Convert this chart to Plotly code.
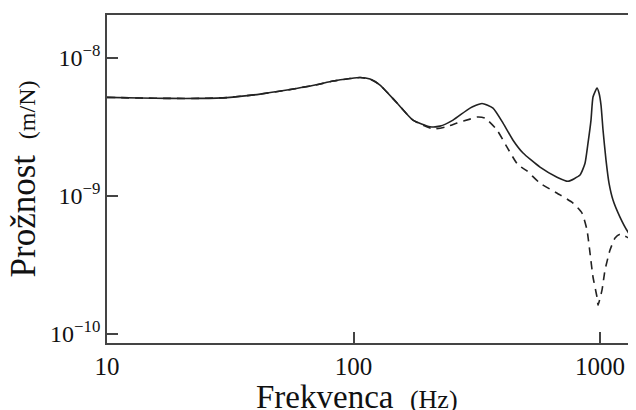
import plotly.graph_objects as go

# Frequency (Hz) and compliance (m/N)
freq_solid = [10.0, 13.6, 18.0, 23.8, 30.7, 41.8, 53.7, 69.8, 82.6, 96.8, 106.3, 116.7,
              128.1, 150.2, 174.3, 204.3, 224.3, 253.3, 296.9, 332.2, 368.1, 404.2,
              443.8, 487.3, 571.0, 669.2, 741.8, 829.7, 869.3, 894.0, 919.3, 936.6,
              972.3, 990.6, 1009.4, 1028.5, 1057.6, 1087.7, 1128.9, 1205.1, 1299.2, 1399.6]
comp_solid = [5.19e-9, 5.13e-9, 5.10e-9, 5.10e-9, 5.17e-9, 5.48e-9, 5.86e-9, 6.37e-9,
              6.81e-9, 7.10e-9, 7.22e-9, 7.04e-9, 6.37e-9, 4.72e-9, 3.55e-9, 3.18e-9,
              3.21e-9, 3.55e-9, 4.34e-9, 4.69e-9, 4.34e-9, 3.38e-9, 2.54e-9, 2.05e-9,
              1.62e-9, 1.37e-9, 1.28e-9, 1.42e-9, 1.73e-9, 2.42e-9, 3.55e-9, 5.22e-9,
              6.06e-9, 5.58e-9, 4.56e-9, 3.01e-9, 1.82e-9, 1.24e-9, 9.35e-10, 7.04e-10,
              5.48e-10, 4.64e-10]

freq_dashed = [10.0, 13.6, 18.0, 23.8, 30.7, 41.8, 53.7, 69.8, 82.6, 96.8, 106.3, 116.7,
               128.1, 150.2, 174.3, 210.1, 235.0, 263.0, 296.9, 316.9, 341.6, 382.1,
               419.5, 464.9, 505.7, 571.0, 688.1, 777.3, 845.3, 885.6, 910.9, 936.6,
               972.3, 981.5, 1018.8, 1047.8, 1098.0, 1150.4, 1205.1, 1287.0, 1399.6]
comp_dashed = [5.19e-9, 5.13e-9, 5.10e-9, 5.10e-9, 5.17e-9, 5.48e-9, 5.86e-9, 6.37e-9,
               6.81e-9, 7.10e-9, 7.22e-9, 7.04e-9, 6.37e-9, 4.72e-9, 3.55e-9, 3.06e-9,
               3.16e-9, 3.38e-9, 3.61e-9, 3.74e-9, 3.67e-9, 3.01e-9, 2.26e-9, 1.68e-9,
               1.52e-9, 1.24e-9, 1.02e-9, 8.90e-10, 7.53e-10, 5.67e-10, 3.86e-10, 2.59e-10,
               1.85e-10, 1.62e-10, 2.08e-10, 2.91e-10, 4.06e-10, 4.96e-10, 5.30e-10,
               5.04e-10, 4.64e-10]

x_tick_vals = [10, 100, 1000]
x_tick_text = ["10", "100", "1000"]
y_tick_vals = [1e-10, 1e-9, 1e-8]
y_tick_text = ["10<sup>−10</sup>", "10<sup>−9</sup>", "10<sup>−8</sup>"]

FONT = "Liberation Serif, Times New Roman, serif"
INK = "#111111"
AXIS = "#444444"

fig = go.Figure()
fig.add_trace(go.Scatter(x=freq_dashed, y=comp_dashed, mode="lines",
                         line=dict(color="#222222", width=1.6, dash="8px,6px", shape="spline", smoothing=0.5),
                         hoverinfo="skip"))
fig.add_trace(go.Scatter(x=freq_solid, y=comp_solid, mode="lines",
                         line=dict(color="#222222", width=1.6, shape="spline", smoothing=0.5),
                         hoverinfo="skip"))
# invisible trace to create right-side mirrored ticks without a line
fig.add_trace(go.Scatter(x=[10], y=[1e-9], yaxis="y2", mode="markers",
                         marker=dict(opacity=0), hoverinfo="skip", showlegend=False))

# page body has an 8px margin, so the figure is 8px smaller and offset
fig.update_layout(
    width=628, height=402,
    margin=dict(l=99, r=0, t=7, b=67, autoexpand=False),
    paper_bgcolor="white", plot_bgcolor="white",
    showlegend=False,
    font=dict(family=FONT, color=INK),
    xaxis=dict(type="log", range=[1, 3.146], tickvals=x_tick_vals, ticktext=x_tick_text,
               ticks="inside", ticklen=11, tickwidth=1.5, tickcolor=AXIS, automargin=False,
               showline=True, linecolor=AXIS, linewidth=1.8, mirror=True,
               showgrid=False, zeroline=False, tickfont=dict(size=25, family=FONT, color=INK)),
    yaxis=dict(type="log", range=[-10.065, -7.688], tickvals=y_tick_vals, ticktext=y_tick_text,
               ticks="inside", ticklen=11, tickwidth=1.5, tickcolor=AXIS, automargin=False,
               showline=True, linecolor=AXIS, linewidth=1.8, mirror=False,
               showgrid=False, zeroline=False, tickfont=dict(size=24, family=FONT, color=INK)),
    yaxis2=dict(type="log", range=[-10.065, -7.688], tickvals=y_tick_vals, overlaying="y",
                side="right", anchor="x", showticklabels=False, ticks="inside", ticklen=6,
                tickwidth=1.5, tickcolor=AXIS, showline=False, showgrid=False, zeroline=False,
                automargin=False),
    annotations=[
        dict(text="Frekvenca  <span style='font-size:26px'>(Hz)</span>", xref="paper", yref="paper",
             x=0.4726, y=-0.165, xanchor="center", yanchor="middle", showarrow=False,
             font=dict(size=33, family=FONT, color=INK)),
        dict(text="Prožnost\u2009 <span style='font-size:24px'>(m/N)</span>", xref="paper", yref="paper",
             x=-0.158, y=0.5, xanchor="center", yanchor="middle", textangle=-90, showarrow=False,
             font=dict(size=35, family=FONT, color=INK)),
    ],
)

fig.write_html("out.html", config={"displayModeBar": False})
